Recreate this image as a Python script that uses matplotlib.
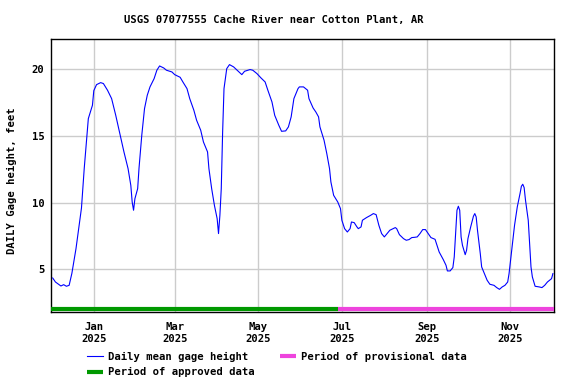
import matplotlib
matplotlib.use("Agg")
import matplotlib.pyplot as plt
import matplotlib.dates as mdates
import numpy as np

# daily mean gage height, feet
dates = [
    "2024-12-02", "2024-12-04", "2024-12-08", "2024-12-10", "2024-12-12", "2024-12-14",
    "2024-12-16", "2024-12-19", "2024-12-21", "2024-12-23", "2024-12-25", "2024-12-27",
    "2024-12-28", "2024-12-31", "2025-01-01", "2025-01-03", "2025-01-06", "2025-01-08",
    "2025-01-11", "2025-01-14", "2025-01-17", "2025-01-20", "2025-01-23", "2025-01-26",
    "2025-01-28", "2025-01-29", "2025-01-30", "2025-01-31", "2025-02-02", "2025-02-03",
    "2025-02-05", "2025-02-07", "2025-02-09", "2025-02-11", "2025-02-14", "2025-02-16",
    "2025-02-18", "2025-02-21", "2025-02-23", "2025-02-27", "2025-03-01", "2025-03-05",
    "2025-03-07", "2025-03-10", "2025-03-12", "2025-03-15", "2025-03-17", "2025-03-20",
    "2025-03-22", "2025-03-25", "2025-03-26", "2025-03-28", "2025-03-30", "2025-04-01",
    "2025-04-02", "2025-04-03", "2025-04-04", "2025-04-05", "2025-04-06", "2025-04-08",
    "2025-04-10", "2025-04-13", "2025-04-17", "2025-04-19", "2025-04-21", "2025-04-25",
    "2025-04-27", "2025-04-30", "2025-05-03", "2025-05-06", "2025-05-08", "2025-05-11",
    "2025-05-13", "2025-05-16", "2025-05-18", "2025-05-21", "2025-05-23", "2025-05-25",
    "2025-05-27", "2025-05-30", "2025-05-31", "2025-06-03", "2025-06-06", "2025-06-07",
    "2025-06-10", "2025-06-12", "2025-06-14", "2025-06-15", "2025-06-18", "2025-06-20",
    "2025-06-22", "2025-06-23", "2025-06-25", "2025-06-28", "2025-06-30", "2025-07-01",
    "2025-07-03", "2025-07-05", "2025-07-07", "2025-07-08", "2025-07-10", "2025-07-12",
    "2025-07-13", "2025-07-15", "2025-07-16", "2025-07-19", "2025-07-22", "2025-07-24",
    "2025-07-26", "2025-07-28", "2025-07-30", "2025-08-01", "2025-08-03", "2025-08-05",
    "2025-08-09", "2025-08-10", "2025-08-12", "2025-08-15", "2025-08-17", "2025-08-19",
    "2025-08-21", "2025-08-23", "2025-08-25", "2025-08-27", "2025-08-29", "2025-08-31",
    "2025-09-02", "2025-09-04", "2025-09-07", "2025-09-08", "2025-09-10", "2025-09-13",
    "2025-09-15", "2025-09-16", "2025-09-18", "2025-09-20", "2025-09-21", "2025-09-22",
    "2025-09-23", "2025-09-24", "2025-09-25", "2025-09-26", "2025-09-27", "2025-09-29",
    "2025-09-30", "2025-10-01", "2025-10-03", "2025-10-05", "2025-10-06", "2025-10-07",
    "2025-10-08", "2025-10-10", "2025-10-11", "2025-10-13", "2025-10-15", "2025-10-17",
    "2025-10-20", "2025-10-22", "2025-10-24", "2025-10-26", "2025-10-28", "2025-10-30",
    "2025-10-31", "2025-11-01", "2025-11-03", "2025-11-04", "2025-11-06", "2025-11-08",
    "2025-11-09", "2025-11-10", "2025-11-11", "2025-11-12", "2025-11-14", "2025-11-15",
    "2025-11-16", "2025-11-17", "2025-11-19", "2025-11-22", "2025-11-24", "2025-11-26",
    "2025-11-28", "2025-12-01", "2025-12-02",
]
gage = [
    4.35, 4.05, 3.75, 3.85, 3.73, 3.8,
    4.7, 6.55, 8.05, 9.6, 12.55, 15.05,
    16.3, 17.3, 18.4, 18.85, 19.0, 18.93,
    18.43, 17.8, 16.55, 15.18, 13.8, 12.55,
    11.3, 10.05, 9.43, 10.3, 11.05, 12.6,
    15.05, 17.05, 18.05, 18.68, 19.3, 19.93,
    20.25, 20.1, 19.93, 19.8, 19.6, 19.4,
    19.05, 18.55, 17.8, 16.93, 16.18, 15.43,
    14.55, 13.8, 12.55, 11.05, 9.8, 8.8,
    7.68, 9.05, 11.05, 15.3, 18.55, 20.05,
    20.35, 20.18, 19.8, 19.6, 19.85, 19.98,
    19.93, 19.68, 19.35, 19.05, 18.43, 17.55,
    16.55, 15.8, 15.35, 15.38, 15.68, 16.43,
    17.8, 18.55, 18.68, 18.68, 18.43, 17.8,
    17.1, 16.8, 16.43, 15.68, 14.68, 13.68,
    12.55, 11.55, 10.55, 10.05, 9.55, 8.68,
    8.05, 7.8, 8.05, 8.55, 8.5, 8.18,
    8.05, 8.18, 8.68, 8.88, 9.05, 9.18,
    9.1, 8.3, 7.68, 7.43, 7.68, 7.93,
    8.13, 8.05, 7.6, 7.3, 7.18, 7.23,
    7.38, 7.4, 7.43, 7.68, 7.98, 7.98,
    7.68, 7.38, 7.25, 6.93, 6.3, 5.73,
    5.3, 4.88, 4.88, 5.13, 5.93, 7.68,
    9.43, 9.73, 9.43, 7.43, 6.8, 6.1,
    6.43, 7.3, 8.18, 8.98, 9.18, 8.93,
    7.9, 6.18, 5.18, 4.68, 4.18, 3.88,
    3.8, 3.63, 3.5, 3.68, 3.8, 4.05,
    4.68, 5.6, 7.43, 8.3, 9.68, 10.68,
    11.23, 11.38, 11.13, 10.18, 8.68, 6.93,
    5.18, 4.43, 3.73, 3.68, 3.63, 3.8,
    4.05, 4.3, 4.68,
]

# data-approval periods
approved = ["2024-12-01", "2025-06-28"]
provisional = ["2025-06-28", "2025-12-03"]
x_range = ["2024-12-01", "2025-12-03"]
y_range = [1.8, 22.25]
bar_level = 2.04

plt.rcParams["font.family"] = "DejaVu Sans Mono"
plt.rcParams["font.weight"] = "bold"
plt.rcParams["font.size"] = 7.6

fig = plt.figure(figsize=(5.76, 3.84), dpi=100)
ax = fig.add_axes([0.0891, 0.1875, 0.8732, 0.7102])

d = np.array(dates, dtype="datetime64[D]")
ax.plot(d, gage, color="#0000ff", lw=0.8, label="Daily mean gage height", zorder=3)
ax.plot(np.array(approved, dtype="datetime64[D]"), [bar_level, bar_level],
        color="#009900", lw=3, solid_capstyle="butt", label="Period of approved data", zorder=4)
ax.plot(np.array(provisional, dtype="datetime64[D]"), [bar_level, bar_level],
        color="#ee44dd", lw=3, solid_capstyle="butt", label="Period of provisional data", zorder=4)

ax.set_xlim(np.datetime64(x_range[0]), np.datetime64(x_range[1]))
ax.set_ylim(*y_range)
ax.set_yticks([5, 10, 15, 20])
ax.xaxis.set_major_locator(mdates.MonthLocator(bymonth=[1, 3, 5, 7, 9, 11]))
ax.xaxis.set_major_formatter(mdates.DateFormatter("%b\n%Y"))
ax.grid(True, color="#cccccc", lw=1)
ax.tick_params(length=0, pad=7.5)
ax.tick_params(axis="y", pad=5)
for s in ax.spines.values():
    s.set_linewidth(1)

fig.text(0.476, 1 - 20.5 / 384, "USGS 07077555 Cache River near Cotton Plant, AR",
         ha="center", va="center")
fig.text(12 / 576, 1 - 181 / 384, "DAILY Gage height, feet", rotation=90,
         ha="center", va="center")

h, l = ax.get_legend_handles_labels()
fig.legend(h, l, ncol=2, frameon=False, loc="upper left",
           bbox_to_anchor=(87 / 576, 1 - 352 / 384), handlelength=1.5,
           handletextpad=0.5, columnspacing=2.4, labelspacing=0.5,
           borderaxespad=0, borderpad=0)

fig.savefig("out.png", dpi=100)
